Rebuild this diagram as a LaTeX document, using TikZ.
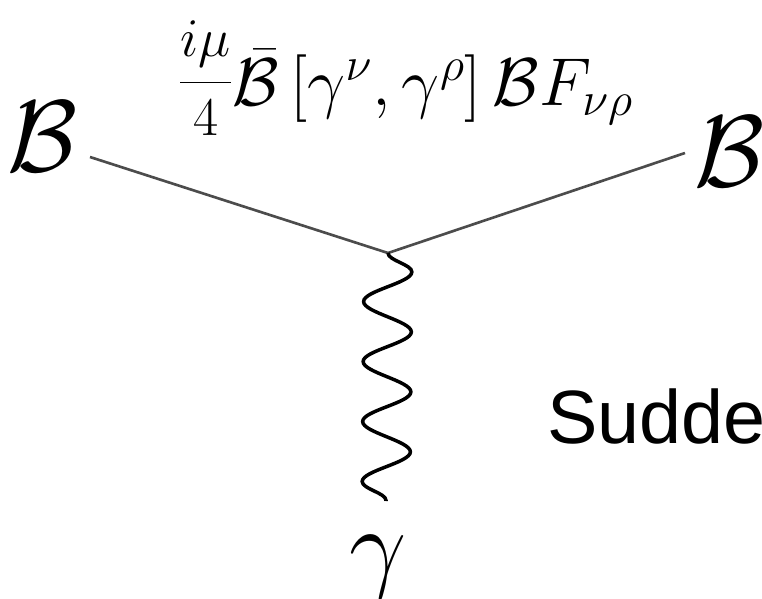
\RequirePackage{fix-cm}
\documentclass[tikz,border=0pt]{standalone}
\usepackage{fontspec}
\usetikzlibrary{decorations.pathmorphing}
\newfontfamily\notefont{Liberation Sans}

\newcommand\fracpart[1]{\mbox{\fontsize{31}{31}\selectfont$#1$}}

\tikzset{
  fermion/.style={draw=black!70, line width=1.5pt},
  photon/.style={draw=black, line width=2pt, decorate,
    decoration={snake, amplitude=0.48cm, segment length=1.2cm}},
  extleg/.style={inner sep=0pt, font=\fontsize{58}{60}\selectfont},
}

\begin{document}
\begin{tikzpicture}[x=0.02cm, y=-0.02cm]
  \useasboundingbox (0,0) rectangle (762,599);

  % Vertex and external legs
  \coordinate (v) at (388,253);
  \coordinate (l) at (90,157);
  \coordinate (r) at (685,153);
  \coordinate (b) at (386,501);

  \node [extleg] (Bl) at (43,137) {$\mathcal{B}$};
  \node [extleg] (Br) at (730,152) {$\mathcal{B}$};
  \node [extleg] (gam) at (378,567) {$\gamma$};

  \draw [fermion] (l) -- (v);
  \draw [fermion] (v) -- (r);
  \draw [photon] (v) -- (b);

  % Coupling term
  \node [anchor=base west, inner sep=0pt, font=\fontsize{38.5}{46}\selectfont] (coupling) at (178,105)
    {$\raisebox{3pt}{$\frac{\fracpart{i\mu}\rule[-14.2pt]{0pt}{14.2pt}}{\fracpart{4}\rule{0pt}{29.4pt}}$}\bar{\mathcal{B}}\left[\gamma^{\nu},\gamma^{\rho}\right]\mathcal{B}F_{\nu\rho}$};

  \node [anchor=base west, inner sep=0pt, font=\notefont\fontsize{43}{48}\selectfont] (note) at (547,443) {Sudde};
\end{tikzpicture}
\end{document}
